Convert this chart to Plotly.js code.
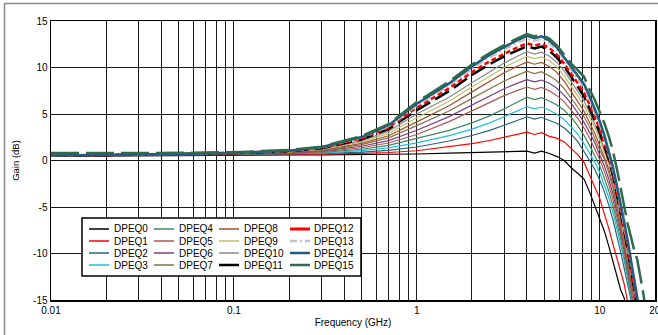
<!DOCTYPE html>
<html>
<head>
<meta charset="utf-8">
<script src="https://cdn.plot.ly/plotly-3.0.1.min.js"></script>
<style>html,body{margin:0;padding:0;background:#fff;}#chart{width:658px;height:335px;}</style>
</head>
<body>
<div id="chart"></div>
<script>
// Frequency grid (GHz)
const FREQ = [0.01,0.02,0.05,0.1,0.2,0.3,0.5,0.7,1,1.5,2,2.5,3,3.5,4,4.4,4.8,5.3,5.8,6.4,7,7.6,8.2,8.8,9.4,10,10.6,11.2,11.8,12.4,13,13.6,14.2,14.8,15.4,16,16.6,17.2,17.8];

// Gain (dB) per DPEQ setting
const G0  = [0.45,0.5,0.55,0.6, 0.6,0.61,0.63,0.66,0.7,0.79,0.87,0.92,0.95,0.98,1.0,0.8,1.0, 0.75,0.45,0.0,-0.8,-1.4,-2.0,-3.4,-4.9,-6.1,-7.6,-9.2,-10.9,-12.5,-13.9,-14.8,-16];
const G1  = [0.5,0.53,0.58,0.62, 0.64,0.67,0.76,0.86,1.05,1.45,1.81,2.15,2.49,2.79,3.05,2.8,3.0, 2.6,2.4,2.0,1.3,0.6,-0.2,-1.6,-2.8,-4.1,-5.8,-7.3,-9.0,-10.5,-11.9,-13.3,-15.2,-16.5];
const G2  = [0.5,0.54,0.59,0.64, 0.67,0.73,0.9,1.09,1.45,2.1,2.69,3.24,3.79,4.28,4.7,4.45,4.65, 4.3,4.0,3.5,2.8,2.0,1.0,0.0,-1.0,-2.1,-3.4,-4.8,-6.4,-8.1,-9.8,-11.6,-13.4,-15.2,-16.5];
const G3  = [0.5,0.55,0.6,0.66, 0.71,0.8,1.06,1.35,1.9,2.68,3.38,4.05,4.71,5.29,5.8,5.55,5.75, 5.4,5.0,4.4,3.6,2.8,1.8,0.8,-0.2,-1.3,-2.6,-4.0,-5.6,-7.3,-9.0,-10.8,-12.7,-14.6,-16.2];
const G4  = [0.5,0.55,0.61,0.68, 0.75,0.86,1.21,1.62,2.35,3.24,4.04,4.8,5.55,6.22,6.8,6.55,6.75, 6.4,6.0,5.4,4.6,3.7,2.7,1.6,0.5,-0.6,-1.9,-3.3,-4.9,-6.6,-8.4,-10.3,-12.2,-14.1,-16];
const G5  = [0.5,0.55,0.62,0.7, 0.78,0.93,1.37,1.88,2.8,4.18,5.35,6.27,6.98,7.49,7.9,7.65,7.85, 7.5,7.0,6.3,5.4,4.5,3.5,2.4,1.2,0.1,-1.2,-2.6,-4.2,-6.0,-7.9,-9.8,-11.8,-13.8,-15.6];
const G6  = [0.5,0.56,0.63,0.72, 0.82,1.0,1.53,2.14,3.25,4.72,5.98,6.96,7.72,8.26,8.7,8.45,8.65, 8.3,7.8,7.0,6.1,5.1,4.1,3.0,1.9,0.6,-0.6,-2.0,-3.6,-5.5,-7.4,-9.4,-11.4,-13.4,-15.3,-16.5];
const G7  = [0.5,0.56,0.64,0.74, 0.86,1.07,1.7,2.43,3.75,5.33,6.68,7.73,8.55,9.13,9.6,9.35,9.55, 9.1,8.6,7.7,6.7,5.7,4.7,3.6,2.4,1.1,0.1,-1.3,-3.0,-5.0,-7.0,-9.0,-11.0,-13.1,-15.1,-16.5];
const G8  = [0.5,0.56,0.65,0.76, 0.9,1.13,1.84,2.66,4.15,5.89,7.38,8.54,9.44,10.08,10.6,10.35,10.55, 10.1,9.5,8.5,7.4,6.3,5.3,4.1,2.9,1.6,0.4,-0.9,-2.6,-4.6,-6.6,-8.6,-10.6,-12.7,-14.8,-16.4];
const G9  = [0.5,0.57,0.66,0.78, 0.93,1.2,2.0,2.92,4.6,6.38,7.9,9.09,10.01,10.67,11.2,10.95,11.15, 10.7,10.1,9.1,8.0,6.9,5.9,4.7,3.5,2.2,0.9,-0.4,-2.2,-4.2,-6.2,-8.2,-10.2,-12.3,-14.4,-16.2];
const G10 = [0.5,0.57,0.67,0.8, 0.97,1.26,2.14,3.15,5.0,6.81,8.35,9.56,10.49,11.16,11.7,11.45,11.65, 11.2,10.6,9.6,8.5,7.4,6.4,5.2,3.9,2.6,1.2,-0.1,-1.9,-3.9,-5.9,-7.9,-9.9,-12.0,-14.1,-16.0];
const G11 = [0.5,0.57,0.68,0.8, 0.98,1.31,2.27,3.38,5.4,7.47,9.2,10.37,11.2,11.82,12.3,12.05,12.25, 11.8,11.1,10.1,9.0,7.9,6.9,5.6,4.3,3.0,1.5,0.1,-1.6,-3.6,-5.6,-7.6,-9.6,-11.7,-13.8,-15.8];
const G12 = [0.52,0.58,0.69,0.82, 1.02,1.36,2.38,3.55,5.7,7.77,9.5,10.67,11.5,12.12,12.6,12.35,12.55, 12.1,11.4,10.4,9.3,8.3,7.3,6.0,4.7,3.4,1.9,0.4,-1.3,-3.3,-5.3,-7.3,-9.3,-11.4,-13.5,-15.5];
const G13 = [0.55,0.6,0.7,0.82, 1.02,1.38,2.45,3.66,5.9,8.06,9.86,11.08,11.95,12.6,13.1,12.85,13.05, 12.6,11.9,10.8,9.7,8.7,7.8,6.5,5.2,3.8,2.3,0.7,-1.0,-3.0,-5.0,-7.0,-9.0,-11.1,-13.2,-15.2,-16.5];
const G14 = [0.55,0.6,0.7,0.84, 1.05,1.42,2.52,3.79,6.1,8.29,10.12,11.36,12.23,12.89,13.4,13.15,13.35, 12.9,12.2,11.1,10.0,9.1,8.2,6.9,5.6,4.2,2.7,1.0,-0.7,-2.7,-4.6,-6.6,-8.6,-10.8,-12.9,-15.0,-16.5];
const G15 = [0.8,0.8,0.82,0.9, 1.12,1.49,2.63,3.92,6.3,8.49,10.32,11.56,12.43,13.09,13.6,13.35,13.5, 13.1,12.4,11.4,10.4,9.7,9.0,7.6,6.5,5.2,4.0,2.6,1.0,-0.9,-3.0,-5.0,-6.8,-8.2,-9.6,-10.6,-12.2,-14.0,-16];

const SERIES = [G0,G1,G2,G3,G4,G5,G6,G7,G8,G9,G10,G11,G12,G13,G14,G15];
const NAMES = ['DPEQ0','DPEQ1','DPEQ2','DPEQ3','DPEQ4','DPEQ5','DPEQ6','DPEQ7','DPEQ8','DPEQ9','DPEQ10','DPEQ11','DPEQ12','DPEQ13','DPEQ14','DPEQ15'];

// Styles
const COLORS = ['#000000','#ff0000','#2a6478','#1fbfd8','#3b8a5e','#b05656','#7d3f80','#8a7048','#a0522d','#c5bd6a','#8a8a8a','#000000','#ff0000','#c4c4c4','#245b80','#2e6b4c'];
const WIDTHS = [1.2,1.2,1.2,1.2,1.2,1.2,1.2,1.2,1.2,1.2,1.2,2.5,2.5,2,2.5,2.5];
const DASHES = ['solid','solid','solid','solid','solid','solid','solid','solid','solid','solid','solid','16px,6px','5px,3px','8px,3px,2px,3px','solid','28px,7px'];
const LEG_WIDTHS = [1.5,1.5,1.5,1.5,1.5,1.5,1.5,1.5,1.5,1.5,1.5,2.5,3,2.5,2.5,2.5];
const LEG_DASHES = ['solid','solid','solid','solid','solid','solid','solid','solid','solid','solid','solid','solid','solid','7px,3px,2px,3px','solid','solid'];

// Axis ticks
const XTICKS = [0.01,0.02,0.03,0.04,0.05,0.06,0.07,0.08,0.09,0.1,0.2,0.3,0.4,0.5,0.6,0.7,0.8,0.9,1,2,3,4,5,6,7,8,9,10,20];
const XLABELS = ['0.01','','','','','','','','','0.1','','','','','','','','','1','','','','','','','','','10','20'];
const YTICKS = [-15,-10,-5,0,5,10,15];
const YLABELS = ['-15','-10','-5','0','5','10','15'];

const W = 658, H = 335;
const M = {l:51, r:3, t:21, b:35};
const PW = W - M.l - M.r, PH = H - M.t - M.b;
const px2x = p => (p - M.l) / PW;
const py2y = p => (H - M.b - p) / PH;

const traces = SERIES.map((g, i) => ({
  type: 'scatter', mode: 'lines',
  x: FREQ, y: g, name: NAMES[i],
  line: {color: COLORS[i], width: WIDTHS[i], dash: DASHES[i]},
  showlegend: false, hoverinfo: 'skip'
}));

const shapes = [];
const annotations = [];
// outer frame (partial, gray)
shapes.push({type:'line', xref:'paper', yref:'paper', x0:px2x(4.5), x1:px2x(4.5), y0:py2y(3), y1:py2y(340), line:{color:'#8c8c8c', width:1.5}});
shapes.push({type:'line', xref:'paper', yref:'paper', x0:px2x(4), x1:px2x(660), y0:py2y(3.5), y1:py2y(3.5), line:{color:'#8c8c8c', width:1.5}});

// manual legend (4 columns, column-major)
const LEG_BOX = {x0:82, x1:361, y0:218, y1:276};
const COL_LINE = [89,154,219,290];
const COL_TEXT = [114,179,244,314];
const ROW_Y = [229,241,253,265];
shapes.push({type:'rect', xref:'paper', yref:'paper', layer:'above',
  x0:px2x(LEG_BOX.x0), x1:px2x(LEG_BOX.x1), y0:py2y(LEG_BOX.y1), y1:py2y(LEG_BOX.y0),
  fillcolor:'#ffffff', line:{color:'#000000', width:1.5}});
NAMES.forEach((n, i) => {
  const c = Math.floor(i / 4), r = i % 4;
  shapes.push({type:'line', xref:'paper', yref:'paper', layer:'above',
    x0:px2x(COL_LINE[c]), x1:px2x(COL_LINE[c] + 20), y0:py2y(ROW_Y[r]), y1:py2y(ROW_Y[r]),
    line:{color:COLORS[i], width:LEG_WIDTHS[i], dash:LEG_DASHES[i]}});
  annotations.push({xref:'paper', yref:'paper', x:px2x(COL_TEXT[c] - 2), y:py2y(ROW_Y[r]),
    xanchor:'left', yanchor:'middle', showarrow:false, text:n,
    font:{size:10, color:'#000000'}});
});

const layout = {
  width: W, height: H,
  margin: M,
  paper_bgcolor: '#ffffff', plot_bgcolor: '#ffffff',
  font: {family: 'Liberation Sans, Arial, sans-serif', size: 10, color: '#000000'},
  showlegend: false,
  xaxis: {
    type: 'log', range: [Math.log10(0.01), Math.log10(20) + 0.0008],
    tickmode: 'array', tickvals: XTICKS, ticktext: XLABELS,
    ticklabeloverflow: 'allow',
    showgrid: true, gridcolor: '#1a1a1a', gridwidth: 1,
    showline: true, linecolor: '#000000', linewidth: 1.5, mirror: true,
    ticks: '', zeroline: false,
    tickfont: {size: 10},
    title: {text: 'Frequency (GHz)', font: {size: 10}, standoff: 4}
  },
  yaxis: {
    range: [-15, 15],
    tickmode: 'array', tickvals: YTICKS, ticktext: YLABELS,
    showgrid: true, gridcolor: '#1a1a1a', gridwidth: 1,
    showline: true, linecolor: '#000000', linewidth: 1.5, mirror: true,
    ticks: '', zeroline: false,
    tickfont: {size: 10},
    title: {text: 'Gain (dB)', font: {size: 9.5}, standoff: 11}
  },
  shapes: shapes,
  annotations: annotations
};

Plotly.newPlot('chart', traces, layout, {staticPlot: true, displayModeBar: false});
</script>
</body>
</html>
